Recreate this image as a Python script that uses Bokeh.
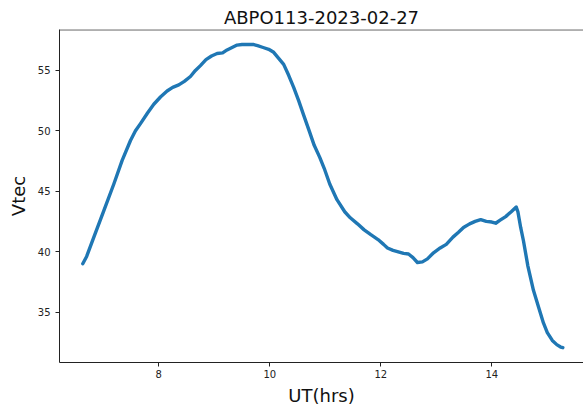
from bokeh.plotting import figure
from bokeh.embed import file_html
from bokeh.resources import INLINE
from bokeh.models import FixedTicker, Span, ColumnDataSource

title_text = "ABPO113-2023-02-27"
x_label = "UT(hrs)"
y_label = "Vtec"
x_ticks = [8, 10, 12, 14]
y_ticks = [35, 40, 45, 50, 55]

ut_hrs = [6.63, 6.70, 6.83, 7.01, 7.19, 7.34, 7.49, 7.58, 7.67, 7.80, 7.91, 8.03,
          8.15, 8.25, 8.36, 8.46, 8.57, 8.66, 8.75, 8.85, 8.95, 9.05, 9.15, 9.23,
          9.32, 9.41, 9.50, 9.60, 9.70, 9.78, 9.88, 9.98, 10.07, 10.16, 10.25,
          10.34, 10.43, 10.52, 10.61, 10.71, 10.80, 10.90, 10.98, 11.08, 11.21,
          11.35, 11.45, 11.58, 11.70, 11.82, 11.95, 12.05, 12.12, 12.22, 12.30,
          12.41, 12.50, 12.58, 12.66, 12.75, 12.84, 12.95, 13.07, 13.18, 13.30,
          13.40, 13.49, 13.60, 13.70, 13.80, 13.90, 14.00, 14.07, 14.15, 14.25,
          14.35, 14.44, 14.47, 14.52, 14.57, 14.65, 14.75, 14.85, 14.93, 15.00,
          15.09, 15.17, 15.24, 15.28]
vtec = [39.0, 39.6, 41.2, 43.4, 45.6, 47.55, 49.2, 50.0, 50.6, 51.5, 52.2, 52.8,
        53.3, 53.6, 53.8, 54.1, 54.5, 55.0, 55.4, 55.9, 56.2, 56.4, 56.45, 56.7,
        56.9, 57.1, 57.15, 57.15, 57.15, 57.05, 56.9, 56.75, 56.5, 56.0, 55.5,
        54.6, 53.6, 52.5, 51.3, 50.0, 48.8, 47.8, 46.9, 45.6, 44.3,
        43.3, 42.8, 42.3, 41.8, 41.4, 41.0, 40.6, 40.3, 40.1, 40.0,
        39.85, 39.8, 39.5, 39.1, 39.15, 39.4, 39.9, 40.3, 40.6, 41.2,
        41.6, 42.0, 42.3, 42.5, 42.65, 42.5, 42.45, 42.35, 42.6, 42.9,
        43.3, 43.7, 43.3, 42.0, 40.9, 38.8, 36.8, 35.3, 34.1, 33.3,
        32.65, 32.3, 32.1, 32.05]

X0, X1 = 6.211, 15.652
Y0, Y1 = 30.82, 58.39

p = figure(width=583, height=408, x_range=(X0, X1), y_range=(Y0, Y1),
           output_backend="svg", toolbar_location=None,
           min_border_left=59, min_border_right=0, min_border_top=29,
           min_border_bottom=46, title=title_text)

p.title.text_font = "DejaVu Sans"
p.title.text_font_size = "18px"
p.title.text_font_style = "normal"
p.title.align = "center"
p.title.text_color = "#111111"
p.title.standoff = 3
p.title.offset = 0

p.outline_line_color = None
p.xgrid.visible = False
p.ygrid.visible = False
p.background_fill_color = "white"
p.border_fill_color = "white"

src = ColumnDataSource(dict(x=ut_hrs, y=vtec))
p.line("x", "y", source=src, line_color="#1f77b4", line_width=3.4,
       line_join="round", line_cap="round")

top = Span(location=Y1 - 0.03, dimension="width", line_color="#222222", line_width=1)
p.add_layout(top)

for ax, ticks, lab in ((p.xaxis[0], x_ticks, x_label), (p.yaxis[0], y_ticks, y_label)):
    ax.ticker = FixedTicker(ticks=ticks)
    ax.minor_tick_line_color = None
    ax.major_tick_in = 0
    ax.major_tick_out = 4
    ax.major_tick_line_color = "#222222"
    ax.axis_line_color = "#222222"
    ax.major_label_text_font = "DejaVu Sans"
    ax.major_label_text_font_size = "10px"
    ax.major_label_text_color = "#222222"
    ax.axis_label = lab
    ax.axis_label_text_font = "DejaVu Sans"
    ax.axis_label_text_font_size = "18px"
    ax.axis_label_text_font_style = "normal"
    ax.axis_label_text_color = "#111111"

p.xaxis.major_label_standoff = 3
p.xaxis.axis_label_standoff = 4
p.yaxis.major_label_standoff = 5
p.yaxis.axis_label_standoff = 6

open("out.html", "w").write(file_html(p, INLINE))
